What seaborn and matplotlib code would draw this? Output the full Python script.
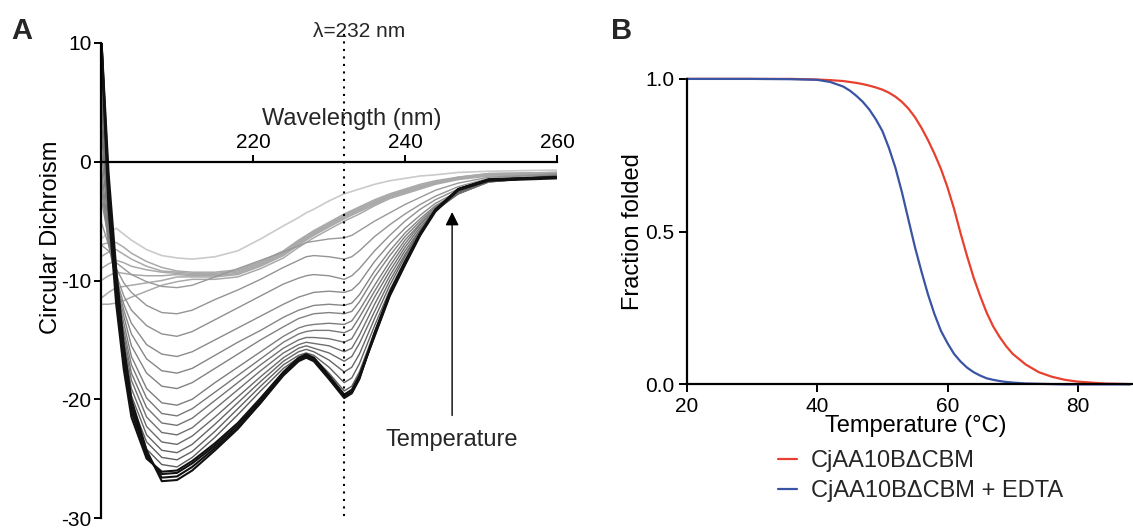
import matplotlib
matplotlib.use("Agg")
import matplotlib.pyplot as plt
import seaborn as sns
import pandas as pd

# ---- Panel A: CD spectra ----
wavelength = [200, 201, 202, 203, 204, 206, 208, 210, 212, 215, 218, 221, 224, 226,
              227, 228, 230, 232, 233, 234, 236, 238, 240, 242, 244, 247, 251, 260]

# native (low temperature) spectra, drawn black
native_spectra = [
    [11.0, -3.0, -11.0, -17.0, -21.0, -24.8, -26.3, -26.2, -25.4, -23.9, -22.2, -20.1, -17.9, -16.7,
     -16.4, -16.7, -18.2, -19.8, -19.4, -18.2, -14.6, -11.2, -8.6, -6.1, -4.1, -2.3, -1.5, -1.3],
    [11.0, -2.0, -10.0, -16.3, -20.5, -24.6, -26.6, -26.5, -25.7, -24.1, -22.4, -20.3, -18.0, -16.8,
     -16.5, -16.8, -18.3, -19.9, -19.5, -18.3, -14.4, -11.0, -8.4, -6.0, -4.0, -2.3, -1.5, -1.3],
    [11.0, -4.0, -12.0, -17.5, -21.5, -25.0, -26.1, -26.0, -25.2, -23.7, -22.0, -19.9, -17.7, -16.5,
     -16.2, -16.5, -18.0, -19.6, -19.2, -18.0, -14.7, -11.3, -8.7, -6.2, -4.2, -2.4, -1.6, -1.4],
    [11.0, -1.0, -9.0, -15.5, -20.0, -24.3, -26.9, -26.8, -26.0, -24.3, -22.5, -20.3, -17.9, -16.7,
     -16.3, -16.6, -18.1, -19.7, -19.4, -18.1, -14.5, -11.1, -8.5, -6.1, -4.1, -2.3, -1.5, -1.3],
]

# spectra recorded during the transition, hottest first
transition_spectra = [
    [-7.0, -7.5, -8.5, -9.0, -9.5, -10.1, -10.5, -10.6, -10.4, -9.7, -9.0, -8.3, -7.6, -7.1,
     -6.8, -6.7, -6.5, -6.4, -6.2, -5.8, -5.0, -4.3, -3.6, -3.0, -2.4, -1.8, -1.3, -1.0],
    [-5.0, -7.0, -9.0, -10.2, -11.0, -12.1, -12.7, -12.8, -12.5, -11.6, -10.8, -9.9, -8.9, -8.3,
     -8.0, -7.9, -8.0, -8.2, -8.0, -7.5, -6.3, -5.3, -4.4, -3.6, -2.9, -2.1, -1.4, -1.0],
    [-3.0, -6.5, -9.5, -11.3, -12.5, -13.8, -14.5, -14.7, -14.3, -13.3, -12.3, -11.3, -10.3, -9.8,
     -9.6, -9.5, -9.6, -9.9, -9.6, -9.0, -7.5, -6.2, -5.0, -4.0, -3.2, -2.3, -1.5, -1.1],
    [-2.0, -6.8, -9.8, -12.0, -13.6, -15.4, -16.2, -16.4, -16.0, -15.0, -14.0, -13.0, -12.0, -11.4,
     -11.2, -11.0, -10.9, -11.0, -10.8, -10.2, -8.4, -6.9, -5.6, -4.5, -3.5, -2.5, -1.6, -1.1],
    [-1.0, -7.0, -10.0, -12.5, -14.5, -16.6, -17.6, -17.8, -17.4, -16.3, -15.2, -14.2, -13.1, -12.5,
     -12.3, -12.1, -12.0, -12.1, -11.9, -11.2, -9.2, -7.5, -6.0, -4.8, -3.7, -2.6, -1.6, -1.1],
    [0.0, -6.5, -10.2, -13.0, -15.5, -17.8, -18.9, -19.1, -18.6, -17.4, -16.2, -15.0, -13.9, -13.2,
     -13.0, -12.8, -12.7, -12.8, -12.6, -11.8, -9.7, -7.9, -6.3, -5.0, -3.8, -2.6, -1.6, -1.2],
    [1.5, -5.8, -10.5, -13.6, -16.4, -19.1, -20.3, -20.5, -20.0, -18.6, -17.3, -16.0, -14.7, -14.0,
     -13.8, -13.7, -13.6, -13.7, -13.4, -12.5, -10.4, -8.4, -6.6, -5.2, -3.9, -2.7, -1.6, -1.2],
    [3.0, -5.0, -10.8, -14.2, -17.1, -19.9, -21.2, -21.4, -20.8, -19.4, -18.0, -16.6, -15.2, -14.5,
     -14.3, -14.2, -14.2, -14.4, -14.1, -13.1, -10.9, -8.8, -6.9, -5.3, -4.0, -2.7, -1.7, -1.2],
    [4.0, -4.5, -10.9, -14.6, -17.8, -20.7, -22.0, -22.2, -21.6, -20.1, -18.6, -17.1, -15.7, -15.0,
     -14.8, -14.8, -14.9, -15.2, -14.9, -13.8, -11.4, -9.2, -7.2, -5.5, -4.1, -2.7, -1.7, -1.2],
    [5.5, -4.1, -11.0, -15.0, -18.4, -21.5, -22.8, -23.0, -22.4, -20.8, -19.2, -17.6, -16.1, -15.4,
     -15.2, -15.3, -15.5, -16.0, -15.7, -14.6, -12.0, -9.6, -7.5, -5.7, -4.1, -2.7, -1.7, -1.2],
    [7.0, -3.8, -11.0, -15.4, -19.1, -22.3, -23.6, -23.8, -23.1, -21.5, -19.8, -18.1, -16.5, -15.7,
     -15.5, -15.7, -16.1, -16.8, -16.4, -15.3, -12.6, -10.0, -7.8, -5.8, -4.1, -2.6, -1.6, -1.2],
    [8.0, -3.6, -11.0, -15.8, -19.7, -23.0, -24.3, -24.5, -23.8, -22.1, -20.3, -18.5, -16.8, -16.0,
     -15.8, -16.0, -16.7, -17.7, -17.3, -16.2, -13.2, -10.4, -8.0, -5.9, -4.1, -2.5, -1.6, -1.3],
    [9.0, -3.3, -11.0, -16.2, -20.3, -23.6, -24.9, -25.1, -24.4, -22.7, -20.8, -18.9, -17.1, -16.3,
     -16.1, -16.3, -17.3, -18.6, -18.2, -17.0, -13.8, -10.8, -8.3, -6.0, -4.1, -2.4, -1.5, -1.3],
    [10.0, -3.1, -11.0, -16.6, -20.7, -24.2, -25.5, -25.7, -24.9, -23.2, -21.3, -19.3, -17.4, -16.5,
     -16.3, -16.5, -17.8, -19.3, -18.9, -17.7, -14.3, -11.1, -8.5, -6.1, -4.1, -2.3, -1.5, -1.3],
]

# unfolded (high temperature) spectra, the light grey band
unfolded_spectra = [
    [-7.0, -6.8, -6.8, -7.2, -7.7, -8.4, -8.9, -9.2, -9.3, -9.3, -9.1, -8.4, -7.5, -6.6,
     -6.2, -5.8, -5.1, -4.4, -4.1, -3.8, -3.2, -2.7, -2.3, -1.9, -1.6, -1.3, -1.0, -0.9],
    [-8.0, -7.6, -7.4, -7.8, -8.2, -8.8, -9.2, -9.3, -9.4, -9.4, -9.2, -8.5, -7.6, -6.7,
     -6.3, -5.9, -5.2, -4.5, -4.2, -3.9, -3.3, -2.8, -2.4, -2.0, -1.7, -1.3, -1.0, -0.9],
    [-9.0, -8.6, -8.3, -8.5, -8.8, -9.1, -9.3, -9.4, -9.5, -9.5, -9.3, -8.6, -7.7, -6.8,
     -6.4, -6.0, -5.3, -4.6, -4.3, -4.0, -3.4, -2.9, -2.5, -2.1, -1.8, -1.4, -1.1, -0.9],
    [-10.0, -9.6, -9.3, -9.4, -9.5, -9.6, -9.6, -9.5, -9.6, -9.6, -9.4, -8.7, -7.8, -6.9,
     -6.5, -6.1, -5.4, -4.7, -4.4, -4.1, -3.5, -2.9, -2.5, -2.1, -1.8, -1.4, -1.1, -1.0],
    [-11.5, -11.0, -10.6, -10.5, -10.4, -10.2, -10.0, -9.7, -9.7, -9.7, -9.5, -8.8, -7.9, -7.0,
     -6.6, -6.2, -5.5, -4.8, -4.5, -4.2, -3.6, -3.0, -2.6, -2.2, -1.8, -1.4, -1.1, -1.0],
    [-12.0, -12.0, -11.9, -11.7, -11.4, -10.9, -10.4, -10.1, -9.9, -9.9, -9.7, -9.0, -8.1, -7.2,
     -6.8, -6.4, -5.7, -5.0, -4.7, -4.4, -3.7, -3.1, -2.7, -2.3, -1.9, -1.5, -1.2, -1.0],
]

hottest_spectrum = [-6.5, -6.0, -5.6, -6.1, -6.6, -7.4, -7.9, -8.1, -8.2, -8.0, -7.5, -6.5, -5.4, -4.7,
                    -4.3, -4.0, -3.3, -2.7, -2.5, -2.3, -1.9, -1.6, -1.4, -1.2, -1.1, -0.9, -0.8, -0.7]

# ---- Panel B: melting curves ----
temperature = [20, 30, 36, 40, 42, 44, 45, 46, 47, 48, 49, 50, 51, 52, 53, 54, 55, 56, 57, 58, 59,
               60, 61, 62, 63, 64, 65, 66, 67, 68, 69, 70, 72, 74, 76, 78, 80, 84, 88]
folded_apo = [1.0, 1.0, 1.0, 0.998, 0.996, 0.993, 0.990, 0.987, 0.983, 0.978, 0.972, 0.965, 0.955,
              0.942, 0.925, 0.903, 0.875, 0.84, 0.80, 0.755, 0.705, 0.645, 0.575, 0.495, 0.42,
              0.35, 0.29, 0.235, 0.19, 0.155, 0.125, 0.10, 0.065, 0.04, 0.025, 0.015, 0.009,
              0.003, 0.001]
folded_edta = [1.0, 1.0, 0.999, 0.997, 0.99, 0.975, 0.962, 0.945, 0.925, 0.90, 0.868, 0.83, 0.775,
               0.71, 0.63, 0.54, 0.45, 0.37, 0.295, 0.23, 0.175, 0.135, 0.10, 0.075, 0.055,
               0.04, 0.029, 0.02, 0.015, 0.011, 0.008, 0.006, 0.003, 0.002, 0.001, 0.0, 0.0,
               0.0, 0.0]
sample_names = ["CjAA10B\u0394CBM", "CjAA10B\u0394CBM + EDTA"]
sample_colors = ["#e8402f", "#3a54a4"]


def to_long(spectra, tag):
    rows = []
    for i, spec in enumerate(spectra):
        for w, v in zip(wavelength, spec):
            rows.append({"curve": f"{tag}{i}", "wavelength": w, "cd": v})
    return pd.DataFrame(rows)


sns.set_theme(style="ticks")
plt.rcParams["font.family"] = ["Liberation Sans", "DejaVu Sans"]
plt.rcParams["axes.unicode_minus"] = False

fig = plt.figure(figsize=(11.33, 5.28), dpi=100)

# ---------------- Panel A ----------------
ax = fig.add_axes([101 / 1133, 10 / 528, 456 / 1133, 475 / 528])

hot_df = to_long([hottest_spectrum], "L")
sns.lineplot(data=hot_df, x="wavelength", y="cd", units="curve", estimator=None,
             color="#cacaca", lw=1.2, ax=ax, legend=False)

unf_df = to_long(unfolded_spectra, "U")
sns.lineplot(data=unf_df, x="wavelength", y="cd", units="curve", estimator=None,
             color="#a9a9a9", lw=1.1, ax=ax, legend=False)

tr_df = to_long(transition_spectra, "T")
tr_names = [f"T{i}" for i in range(len(transition_spectra))]
tr_colors = sns.blend_palette(["#999999", "#5c5c5c"], n_colors=len(tr_names))
sns.lineplot(data=tr_df, x="wavelength", y="cd", hue="curve", hue_order=tr_names,
             palette=tr_colors, estimator=None, lw=1.0, ax=ax, legend=False)

nat_df = to_long(native_spectra, "N")
sns.lineplot(data=nat_df, x="wavelength", y="cd", units="curve", estimator=None,
             color="#111111", lw=1.5, ax=ax, legend=False)

ax.set_xlim(200, 260)
ax.set_ylim(-30, 10)
ax.spines["bottom"].set_visible(False)
ax.spines["right"].set_visible(False)
ax.spines["top"].set_position(("data", 0))
for s in ("top", "left"):
    ax.spines[s].set_linewidth(1.6)
    ax.spines[s].set_color("black")
ax.xaxis.tick_top()
ax.set_xticks([220, 240, 260])
ax.set_yticks([10, 0, -10, -20, -30])
ax.tick_params(axis="both", direction="out", length=5, width=1.4, labelsize=15,
               color="black", labelcolor="black", pad=2)
ax.set_xlabel("")
ax.set_ylabel("Circular Dichroism", fontsize=17, color="black")
ax.yaxis.set_label_coords(-0.085, 0.59)

ax.text(233, 3.6, "Wavelength (nm)", fontsize=17, ha="center", va="center")
ax.plot([232, 232], [-29.8, 11.0], color="black", lw=1.5,
        linestyle=(0, (1, 2.6)), clip_on=False)
ax.text(233.9, 11.0, "\u03bb=232 nm", fontsize=15, ha="center", va="center", clip_on=False)
ax.annotate("", xy=(246.2, -4.0), xytext=(246.2, -21.6),
            arrowprops=dict(arrowstyle="-|>", color="black", lw=1.0, mutation_scale=20))
ax.text(246.2, -23.4, "Temperature", fontsize=17, ha="center", va="center")

# ---------------- Panel B ----------------
bx = fig.add_axes([686.7 / 1133, 143.6 / 528, 446.3 / 1133, 305.5 / 528])
melt_df = pd.DataFrame({
    "Temperature": temperature * 2,
    "Fraction": folded_apo + folded_edta,
    "Sample": [sample_names[0]] * len(temperature) + [sample_names[1]] * len(temperature),
})
sns.lineplot(data=melt_df, x="Temperature", y="Fraction", hue="Sample",
             hue_order=sample_names, palette=sample_colors, lw=1.6, ax=bx, clip_on=False)
bx.set_xlim(20, 88.45)
bx.set_ylim(0, 1.0)
bx.set_xticks([20, 40, 60, 80])
bx.set_yticks([0.0, 0.5, 1.0])
bx.set_yticklabels(["0.0", "0.5", "1.0"])
sns.despine(ax=bx)
for s in ("left", "bottom"):
    bx.spines[s].set_linewidth(1.6)
    bx.spines[s].set_color("black")
bx.tick_params(axis="both", direction="out", length=6, width=1.4, labelsize=15,
               color="black", labelcolor="black", pad=3)
bx.set_xlabel("Temperature (\u00b0C)", fontsize=17, color="black")
bx.set_ylabel("Fraction folded", fontsize=17, color="black")
bx.xaxis.set_label_coords(0.514, -0.1)
bx.yaxis.set_label_coords(-0.095, 0.5)
sns.move_legend(bx, loc="upper left", bbox_to_anchor=(0.205, -0.215), frameon=False,
                title=None, fontsize=17, handlelength=0.8, handletextpad=0.6,
                labelspacing=0.35, borderpad=0, borderaxespad=0)

fig.text(22 / 1133, 1 - 31 / 528, "A", fontsize=21, fontweight="bold", ha="center", va="center")
fig.text(622 / 1133, 1 - 31 / 528, "B", fontsize=21, fontweight="bold", ha="center", va="center")

fig.savefig("out.png", dpi=100)
